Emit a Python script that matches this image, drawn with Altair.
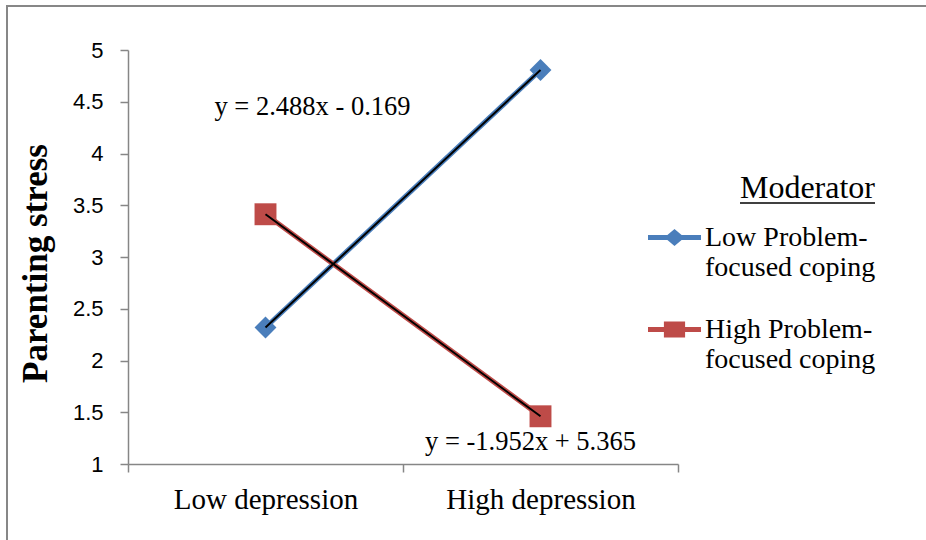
import altair as alt
import pandas as pd

categories = ["Low depression", "High depression"]
series = ["Low Problem-focused coping", "High Problem-focused coping"]
low_pfc = [2.319, 4.807]
high_pfc = [3.413, 1.461]
equations = ["y = 2.488x - 0.169", "y = -1.952x + 5.365"]
eq_cat = ["Low depression", "High depression"]
eq_y = [4.372, 1.135]
eq_dx = [47, -10]
y_ticks = [1, 1.5, 2, 2.5, 3, 3.5, 4, 4.5, 5]
colors = ["#4A7EBB", "#BE4B48"]
marker_shapes = ["diamond", "square"]
legend_shapes = [
    "M-1,0.433L1,0.433L1,0.623L-1,0.623Z M-0.38,0.528L0,0.208L0.38,0.528L0,0.848Z",
    "M-1,0.433L1,0.433L1,0.623L-1,0.623Z M-0.4,0.228L0.4,0.228L0.4,0.828L-0.4,0.828Z",
]

rows = []
for s, vals in zip(series, [low_pfc, high_pfc]):
    for c, v in zip(categories, vals):
        rows.append({"depression": c, "series": s, "stress": v})
df = pd.DataFrame(rows)
eq_df = pd.DataFrame({"depression": eq_cat, "stress": eq_y, "label": equations})

W, H = 550, 414
AX = "#868686"

x_enc = alt.X(
    "depression:N",
    sort=categories,
    scale=alt.Scale(domain=categories, paddingInner=0, paddingOuter=0),
    axis=alt.Axis(
        title=None, labelAngle=0, labelFont="Liberation Serif", labelFontSize=29,
        labelColor="black", labelBaseline="alphabetic", labelPadding=36, labelLimit=400,
        tickSize=8, tickColor=AX, tickWidth=1.5, domainColor=AX, domainWidth=1.5,
        tickBand="extent", grid=False,
    ),
)
y_scale = alt.Scale(domain=[1, 5], nice=False, zero=False)
y_enc = alt.Y(
    "stress:Q",
    scale=y_scale,
    axis=alt.Axis(
        values=y_ticks, format="~g", labelFont="Liberation Sans", labelFontSize=22,
        labelColor="black", labelPadding=17, tickSize=8, tickColor=AX, tickWidth=1.5,
        domainColor=AX, domainWidth=1.5, grid=False,
        title="Parenting stress", titleFont="Liberation Serif", titleFontSize=35,
        titleFontWeight="bold", titleColor="black", titleAngle=270,
        titleX=-93, titleY=213, titleAlign="center", titleBaseline="middle",
    ),
)

color_nolegend = alt.Color("series:N", scale=alt.Scale(domain=series, range=colors), legend=None)

base = alt.Chart(df)
colored_lines = base.mark_line(strokeWidth=5).encode(x=x_enc, y=y_enc, color=color_nolegend)
markers = base.mark_point(filled=True, opacity=1).encode(
    x=x_enc, y=y_enc, color=color_nolegend,
    shape=alt.Shape("series:N", scale=alt.Scale(domain=series, range=marker_shapes), legend=None),
    size=alt.value(480),
)
trend = base.mark_line(strokeWidth=2, color="black").encode(x=x_enc, y=y_enc, detail="series:N")

eq_text1 = alt.Chart(eq_df.iloc[[0]]).mark_text(
    font="Liberation Serif", fontSize=26.5, color="black", align="center", baseline="alphabetic", dx=eq_dx[0]
).encode(x=x_enc, y=y_enc, text="label:N")
eq_text2 = alt.Chart(eq_df.iloc[[1]]).mark_text(
    font="Liberation Serif", fontSize=26.5, color="black", align="center", baseline="alphabetic", dx=eq_dx[1]
).encode(x=x_enc, y=y_enc, text="label:N")

leg = alt.Legend(
    title="Moderator", orient="none", legendX=520, legendY=123,
    titleFont="Liberation Serif", titleFontSize=32, titleFontWeight="normal", titleColor="black",
    titleAlign="right", titleAnchor="end", titlePadding=-8,
    labelFont="Liberation Serif", labelFontSize=28, labelColor="black", labelLimit=400,
    labelBaseline="top", labelOffset=4,
    labelExpr="split(replace(datum.label, '-', '-|'), '|')",
    symbolSize=2809, symbolStrokeWidth=0, rowPadding=7,
)
legend_layer = base.mark_point(filled=True, opacity=1, clip=True, size=2809).transform_calculate(
    stress="0"
).encode(
    x=x_enc, y=y_enc,
    color=alt.Color("series:N", scale=alt.Scale(domain=series, range=colors), legend=leg),
    shape=alt.Shape("series:N", scale=alt.Scale(domain=series, range=legend_shapes), legend=leg),
)

one = pd.DataFrame({"a": [0]})
border = alt.Chart(one).mark_rect(fill=None, stroke="#878787", strokeWidth=2).encode(
    x=alt.value(-121), x2=alt.value(820), y=alt.value(-44), y2=alt.value(520)
)
underline = alt.Chart(one).mark_rule(color="black", strokeWidth=1.5).encode(
    x=alt.value(612), x2=alt.value(747), y=alt.value(153)
)

chart = alt.layer(
    border, colored_lines, markers, trend, eq_text1, eq_text2, legend_layer, underline
).resolve_scale(color="independent", shape="independent").properties(
    width=W, height=H, autosize=alt.AutoSizeParams(type="none"),
    padding={"left": 128, "top": 50, "right": 248, "bottom": 76},
    background="white",
).configure_view(stroke=None).configure_axisY(
    labelFont="Liberation Sans", labelFontSize=22, labelColor="black"
)

chart.save("out.html", embed_options={"renderer": "svg", "actions": False})
